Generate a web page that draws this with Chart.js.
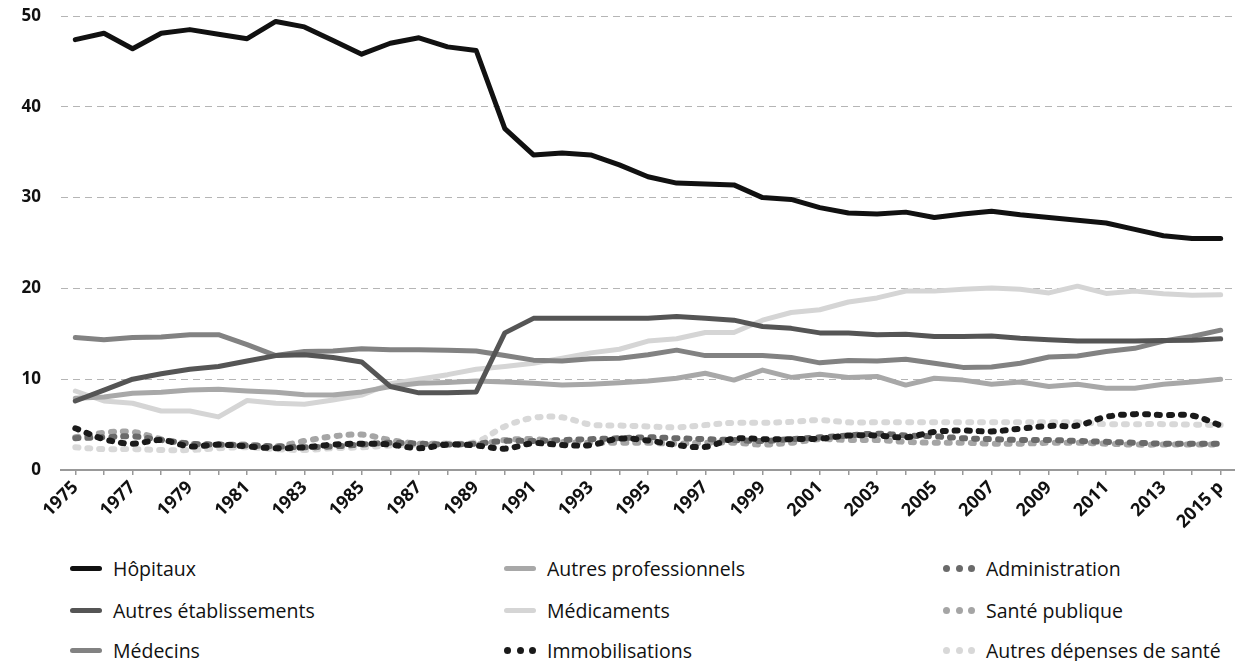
<!DOCTYPE html>
<html>
<head>
<meta charset="utf-8">
<script src="https://cdn.jsdelivr.net/npm/chart.js@4"></script>
<style>
  html, body { margin: 0; padding: 0; background: #fff; }
  body { width: 1235px; height: 661px; position: relative; overflow: hidden; font-family: "Open Sans", sans-serif; }
  #wrap { position: absolute; left: 0; top: 0; width: 1235px; height: 540px; }
  #legend { position: absolute; left: 0; top: 548px; width: 1235px; }
  .item { position: absolute; display: flex; align-items: center; height: 24px; font-size: 19.5px; color: #111; white-space: nowrap; }
  .sw { width: 32px; height: 5px; border-radius: 3px; margin-right: 11px; }
  .dots { width: 32px; margin-right: 11px; display: flex; justify-content: space-between; }
  .dots span { width: 7px; height: 7px; border-radius: 50%; display: block; }
</style>
</head>
<body>
<div id="wrap"><canvas id="chart"></canvas></div>
<div id="legend"></div>
<script>
var labels = ['1975','1976','1977','1978','1979','1980','1981','1982','1983','1984',
              '1985','1986','1987','1988','1989','1990','1991','1992','1993','1994',
              '1995','1996','1997','1998','1999','2000','2001','2002','2003','2004',
              '2005','2006','2007','2008','2009','2010','2011','2012','2013','2014','2015 p'];

var hopitaux = [47.4, 48.1, 46.4, 48.1, 48.5, 48.0, 47.5, 49.4, 48.8, 47.3,
                45.8, 47.0, 47.6, 46.6, 46.2, 37.6, 34.7, 34.9, 34.7, 33.6,
                32.3, 31.6, 31.5, 31.4, 30.0, 29.8, 28.9, 28.3, 28.2, 28.4,
                27.8, 28.2, 28.5, 28.1, 27.8, 27.5, 27.2, 26.5, 25.8, 25.5, 25.5];
var autresEtab = [7.6, 8.8, 10.0, 10.6, 11.1, 11.4, 12.0, 12.6, 12.7, 12.4,
                  11.9, 9.2, 8.5, 8.5, 8.6, 15.1, 16.7, 16.7, 16.7, 16.7,
                  16.7, 16.9, 16.7, 16.5, 15.8, 15.6, 15.1, 15.1, 14.9, 14.95,
                  14.7, 14.7, 14.75, 14.5, 14.35, 14.2, 14.2, 14.2, 14.25, 14.3, 14.45];
var medecins = [14.6, 14.35, 14.6, 14.65, 14.9, 14.9, 13.8, 12.6, 13.05, 13.1,
                13.35, 13.25, 13.25, 13.2, 13.1, 12.6, 12.1, 12.0, 12.25, 12.3,
                12.7, 13.2, 12.6, 12.6, 12.6, 12.4, 11.8, 12.05, 12.0, 12.2,
                11.75, 11.3, 11.35, 11.75, 12.45, 12.55, 13.05, 13.4, 14.2, 14.7, 15.4];
var autresPro = [7.9, 8.05, 8.45, 8.55, 8.8, 8.9, 8.7, 8.55, 8.3, 8.25,
                 8.6, 9.2, 9.55, 9.65, 9.8, 9.7, 9.55, 9.35, 9.45, 9.6,
                 9.8, 10.1, 10.65, 9.9, 11.0, 10.2, 10.55, 10.2, 10.3, 9.35,
                 10.1, 9.9, 9.45, 9.7, 9.2, 9.45, 9.0, 9.0, 9.45, 9.7, 10.0];
var medicaments = [8.7, 7.6, 7.35, 6.5, 6.5, 5.85, 7.65, 7.35, 7.25, 7.7,
                   8.25, 9.5, 10.0, 10.5, 11.1, 11.4, 11.75, 12.3, 12.9, 13.3,
                   14.2, 14.45, 15.15, 15.15, 16.5, 17.35, 17.65, 18.5, 18.95, 19.7,
                   19.7, 19.9, 20.05, 19.9, 19.5, 20.25, 19.45, 19.7, 19.4, 19.25, 19.3];
var immobilisations = [4.6, 3.4, 2.9, 3.3, 2.6, 2.8, 2.6, 2.4, 2.5, 2.8,
                       2.9, 2.8, 2.4, 2.8, 2.7, 2.35, 2.95, 2.75, 2.75, 3.45,
                       3.25, 2.75, 2.55, 3.45, 3.4, 3.4, 3.45, 3.8, 3.8, 3.6,
                       4.2, 4.35, 4.25, 4.55, 4.85, 4.9, 5.85, 6.15, 6.05, 6.0, 4.9];
var administration = [3.5, 3.6, 3.7, 3.3, 2.9, 2.8, 2.7, 2.6, 2.5, 2.6,
                      2.8, 3.0, 2.9, 2.8, 2.9, 3.2, 3.2, 3.3, 3.4, 3.5,
                      3.6, 3.5, 3.4, 3.3, 3.2, 3.4, 3.6, 3.8, 4.0, 3.8,
                      3.7, 3.5, 3.4, 3.3, 3.3, 3.2, 3.1, 3.0, 2.9, 2.9, 2.9];
var santePublique = [3.6, 4.1, 4.2, 3.4, 2.9, 2.8, 2.8, 2.6, 3.2, 3.7,
                     3.9, 3.3, 2.9, 2.9, 2.8, 3.3, 3.4, 3.1, 3.0, 3.0,
                     3.0, 2.9, 3.0, 3.0, 2.8, 3.0, 3.4, 3.3, 3.3, 3.1,
                     3.0, 3.0, 2.9, 2.9, 3.0, 3.0, 2.9, 2.8, 2.8, 2.8, 2.8];
var autresDepenses = [2.5, 2.3, 2.3, 2.2, 2.2, 2.4, 2.5, 2.3, 2.2, 2.4,
                      2.5, 2.7, 2.8, 2.9, 3.1, 4.8, 5.75, 5.8, 5.0, 4.9,
                      4.8, 4.7, 4.95, 5.2, 5.2, 5.3, 5.5, 5.25, 5.25, 5.25,
                      5.25, 5.25, 5.25, 5.25, 5.25, 5.25, 5.05, 5.05, 5.05, 5.0, 4.95];

var yTicks = [0, 10, 20, 30, 40, 50];

function solid(label, data, color) {
  return { label: label, data: data, borderColor: color, backgroundColor: color,
           borderWidth: 5, pointRadius: 0, tension: 0, borderJoinStyle: 'round', borderCapStyle: 'round' };
}
function dotted(label, data, color) {
  return { label: label, data: data, borderColor: color, backgroundColor: color, dotted: true,
           borderWidth: 6, pointRadius: 0, tension: 0.35, borderDash: [3, 9], borderCapStyle: 'round' };
}

var ctx = document.getElementById('chart').getContext('2d');
var chart = new Chart(ctx, {
  type: 'line',
  data: {
    labels: labels,
    datasets: [
      solid('Hôpitaux', hopitaux, '#111111'),
      solid('Autres établissements', autresEtab, '#555555'),
      solid('Médecins', medecins, '#828282'),
      solid('Autres professionnels', autresPro, '#a8a8a8'),
      solid('Médicaments', medicaments, '#d5d5d5'),
      dotted('Immobilisations', immobilisations, '#1a1a1a'),
      dotted('Administration', administration, '#6a6a6a'),
      dotted('Santé publique', santePublique, '#a5a5a5'),
      dotted('Autres dépenses de santé', autresDepenses, '#d8d8d8')
    ]
  },
  options: {
    responsive: true,
    maintainAspectRatio: false,
    animation: false,
    layout: { padding: { left: 20, right: 0, top: 16, bottom: 10 } },
    plugins: {
      legend: { display: false },
      tooltip: { enabled: false }
    },
    scales: {
      x: {
        offset: true,
        afterFit: function (s) { s.paddingLeft = 0; s.paddingRight = 0; s.height = 60; },
        grid: { offset: false, drawOnChartArea: false, drawTicks: true, tickLength: 5, color: '#999', lineWidth: 1.5 },
        border: { display: true, color: '#999', width: 2 },
        ticks: {
          autoSkip: false, maxRotation: 45, minRotation: 45, padding: 2,
          color: '#111', font: { family: 'Open Sans', size: 18, weight: 'bold' },
          callback: function (v, i) { return i % 2 === 0 ? labels[i] : ''; }
        }
      },
      y: {
        min: 0, max: 50,
        afterBuildTicks: function (axis) { axis.ticks = yTicks.map(function (v) { return { value: v }; }); },
        afterFit: function (s) { s.paddingTop = 0; s.paddingBottom = 0; s.width = 41; },
        grid: { color: '#b5b5b5', lineWidth: 1, drawTicks: false },
        border: { display: false, dash: [7, 5] },
        ticks: { padding: 20, color: '#111', font: { family: 'Open Sans', size: 17, weight: 'bold' } }
      }
    }
  }
});

// legend in three columns, filled column by column
var legendOrder = ['Hôpitaux', 'Autres établissements', 'Médecins',
                   'Autres professionnels', 'Médicaments', 'Immobilisations',
                   'Administration', 'Santé publique', 'Autres dépenses de santé'];
var colX = [70, 504, 943];
var rowY = [8, 50, 90];
var legend = document.getElementById('legend');
legendOrder.forEach(function (name, i) {
  var ds = chart.data.datasets.find(function (d) { return d.label === name; });
  var item = document.createElement('div');
  item.className = 'item';
  item.style.left = colX[Math.floor(i / 3)] + 'px';
  item.style.top = rowY[i % 3] + 'px';
  var sw;
  if (ds.dotted) {
    sw = document.createElement('div');
    sw.className = 'dots';
    for (var k = 0; k < 3; k++) {
      var s = document.createElement('span');
      s.style.background = ds.borderColor;
      sw.appendChild(s);
    }
  } else {
    sw = document.createElement('div');
    sw.className = 'sw';
    sw.style.background = ds.borderColor;
  }
  item.appendChild(sw);
  var t = document.createElement('span');
  t.textContent = name;
  item.appendChild(t);
  legend.appendChild(item);
});
</script>
</body>
</html>
